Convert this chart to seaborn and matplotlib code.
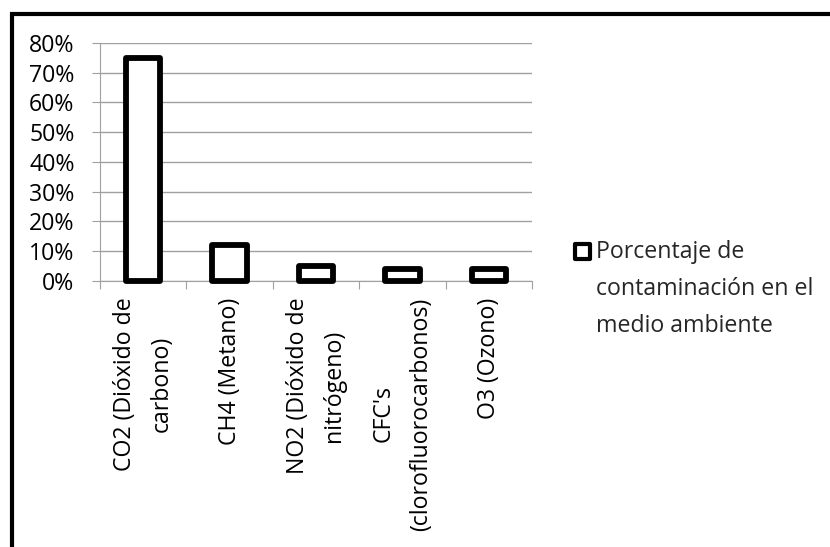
import matplotlib
matplotlib.use("Agg")
import matplotlib.pyplot as plt
import seaborn as sns
import pandas as pd
from matplotlib.patches import Rectangle
from matplotlib.legend_handler import HandlerBase
from matplotlib.ticker import PercentFormatter

# ---- data ----
categories = [
    "CO2 (Dióxido de\ncarbono)",
    "CH4 (Metano)",
    "NO2 (Dióxido de\nnitrógeno)",
    "CFC's\n(clorofluorocarbonos)",
    "O3 (Ozono)",
]
values = [0.75, 0.12, 0.05, 0.04, 0.04]
series_name = "Porcentaje de\ncontaminación en el\nmedio ambiente"
y_ticks = [0.0, 0.1, 0.2, 0.3, 0.4, 0.5, 0.6, 0.7, 0.8]

sns.set_style("white")
plt.rcParams["font.family"] = ["Open Sans", "DejaVu Sans"]

GRID = "#a0a0a0"
FS = 16.7
LINESP = 1.72

fig = plt.figure(figsize=(8.3, 5.47), dpi=100)
ax = fig.add_axes([100 / 830, 1 - 280.7 / 547, 432 / 830, (280.7 - 43) / 547])

df = pd.DataFrame({"cat": categories, "val": values})
sns.barplot(data=df, x="cat", y="val", ax=ax, color="white", saturation=1,
            edgecolor="black", linewidth=4.2, width=0.4)
for p in ax.patches:
    p.set_clip_on(False)
    p.set_joinstyle("round")
    p.set_zorder(3)

ax.set_xlim(-0.5, len(categories) - 0.5)
ax.set_ylim(0, 0.8)
ax.set_yticks(y_ticks)
ax.yaxis.set_major_formatter(PercentFormatter(1.0, decimals=0))
ax.yaxis.grid(True, color=GRID, linewidth=1.0)
ax.set_axisbelow(True)
ax.set_xlabel("")
ax.set_ylabel("")

ax.tick_params(axis="y", left=True, length=5.8, width=0.8, color=GRID,
               pad=12.5, labelsize=FS, labelcolor="black")
ax.set_xticks(range(len(categories)))
ax.set_xticklabels(categories, rotation=90, ha="center", va="top",
                   multialignment="center", linespacing=LINESP)
ax.tick_params(axis="x", which="major", length=0, pad=12, labelsize=FS,
               labelcolor="black")
ax.set_xticks([i - 0.5 for i in range(len(categories) + 1)], minor=True)
ax.tick_params(axis="x", which="minor", bottom=True, length=5.8, width=0.8,
               color=GRID)

for s in ["top", "right"]:
    ax.spines[s].set_visible(False)
for s in ["left", "bottom"]:
    ax.spines[s].set_color(GRID)
    ax.spines[s].set_linewidth(0.8)


class TopSquareHandler(HandlerBase):
    """Square marker aligned with the first line of a multi-line label."""

    def __init__(self, shift, size, lw):
        super().__init__()
        self.shift = shift
        self.size = size
        self.lw = lw

    def create_artists(self, legend, orig_handle, xdescent, ydescent,
                       width, height, fontsize, trans):
        inner = self.size - self.lw
        r = Rectangle((-xdescent + self.lw / 2, 0.5 + self.lw / 2 + self.shift),
                      inner, inner, facecolor="white", edgecolor="black",
                      linewidth=self.lw, joinstyle="round", transform=trans)
        return [r]


pitch_pt = 36.5 / (100 / 72)
sq = 13.5
leg = ax.legend(handles=[Rectangle((0, 0), 1, 1)], labels=[series_name],
                handler_map={Rectangle: TopSquareHandler(pitch_pt, sq, 3.0)},
                loc="center left", bbox_to_anchor=(573 / 830, 1 - 289 / 547),
                bbox_transform=fig.transFigure, frameon=False, fontsize=FS,
                handlelength=sq / FS, handletextpad=0.2, borderpad=0,
                borderaxespad=0)
for t in leg.get_texts():
    t.set_linespacing(LINESP)

# outer chart border (only top and left visible within the image)
fig.add_artist(Rectangle((12 / 830, -0.2), 1.2, 1 - 13.5 / 547 + 0.2,
                         transform=fig.transFigure, fill=False,
                         edgecolor="black", linewidth=3, clip_on=False))

fig.savefig("out.png", dpi=100)
